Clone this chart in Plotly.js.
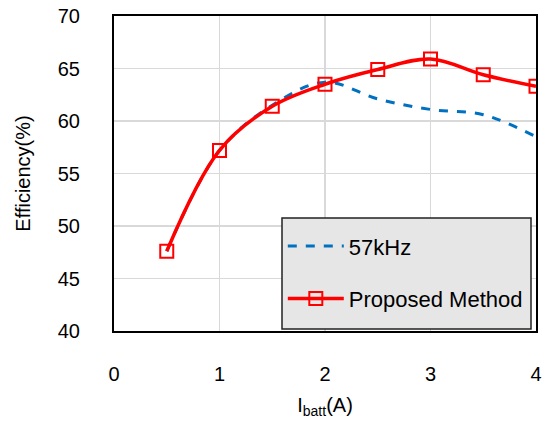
<!DOCTYPE html>
<html>
<head>
<meta charset="utf-8">
<script src="https://cdn.plot.ly/plotly-3.0.1.min.js"></script>
<style>html,body{margin:0;padding:0;background:#fff;}#chart{width:550px;height:426px;}</style>
</head>
<body>
<div id="chart"></div>
<script>
const currentA = [0.5, 1, 1.5, 2, 2.5, 3, 3.5, 4];
const eff57kHz = [47.6, 57.2, 61.5, 63.7, 62.1, 61.1, 60.6, 58.5];
const effProposed = [47.6, 57.2, 61.4, 63.5, 64.9, 65.9, 64.4, 63.3];
const xTicks = [0, 1, 2, 3, 4];
const yTicks = [40, 45, 50, 55, 60, 65, 70];
const seriesNames = ['57kHz', 'Proposed Method'];

const font = {family: 'Arial, "Liberation Sans", sans-serif', size: 20, color: '#000'};
const legendFont = {family: 'Arial, "Liberation Sans", sans-serif', size: 22, color: '#000'};

const traces = [
  {
    x: currentA, y: eff57kHz, name: seriesNames[0], mode: 'lines', legendgroup: 'g1',
    line: {color: '#0070c0', width: 3, dash: 'dash', shape: 'spline', smoothing: 1}
  },
  {
    x: currentA, y: effProposed, name: seriesNames[1], mode: 'lines+markers', legendgroup: 'g2',
    line: {color: '#ff0000', width: 3.5, shape: 'spline', smoothing: 1},
    marker: {symbol: 'square-open', size: 13, color: '#ff0000', line: {width: 2, color: '#ff0000'}}
  }
];

const layout = {
  width: 550, height: 426,
  margin: {l: 114, r: 14, t: 16, b: 95},
  paper_bgcolor: '#fff', plot_bgcolor: '#fff',
  font: font,
  showlegend: true,
  legend: {
    x: 0.40, y: 0.336, xanchor: 'left', yanchor: 'top',
    bgcolor: 'rgba(0,0,0,0)', borderwidth: 0, itemwidth: 56,
    font: legendFont, tracegroupgap: 21, traceorder: 'grouped'
  },
  shapes: [{
    type: 'rect', xref: 'paper', yref: 'paper', layer: 'above',
    x0: (282 - 114) / 422, x1: (531 - 114) / 422,
    y0: (331 - 329) / 315, y1: (331 - 218) / 315,
    fillcolor: '#e6e6e6', line: {color: '#222', width: 1.5}
  }],
  xaxis: {
    range: [0, 4], tickvals: xTicks, ticktext: xTicks.map(String),
    showgrid: true, gridcolor: '#d9d9d9', gridwidth: 1.3,
    zeroline: false, showline: true, mirror: true, linecolor: '#000', linewidth: 2,
    ticks: '', ticklabelstandoff: 24, tickfont: font,
    title: {text: 'I<sub>batt</sub>(A)', font: font, standoff: 14}
  },
  yaxis: {
    range: [40, 70], tickvals: yTicks, ticktext: yTicks.map(String),
    showgrid: true, gridcolor: '#d9d9d9', gridwidth: 1.3,
    zeroline: false, showline: true, mirror: true, linecolor: '#000', linewidth: 2,
    ticks: '', ticklabelstandoff: 28, tickfont: font,
    title: {text: 'Efficiency(%)', font: font, standoff: 22}
  }
};

Plotly.newPlot('chart', traces, layout, {displayModeBar: false, staticPlot: true});
</script>
</body>
</html>
